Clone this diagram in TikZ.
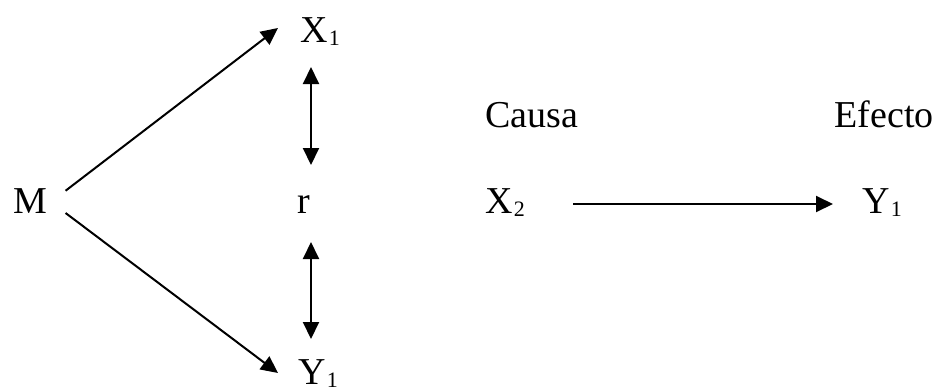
\documentclass[tikz,border=0pt]{standalone}
\usepackage{fontspec}
\setmainfont{Liberation Serif}
\usepackage{tikz}
\usetikzlibrary{arrows.meta, positioning}
\newcommand{\subidx}[1]{\kern0.5pt\raisebox{-1.5pt}{\fontsize{11}{12}\selectfont #1}}
\tikzstyle{word} = [inner sep=0pt, anchor=base west, font=\fontsize{19}{23}\selectfont]
\tikzstyle{arrow} = [line width=1pt, -{Triangle[length=8.5pt, width=8pt]}]
\tikzstyle{dblarrow} = [line width=1pt, {Triangle[length=8.5pt, width=8pt]}-{Triangle[length=8.5pt, width=8pt]}]

\begin{document}
\begin{tikzpicture}[x=0.5pt, y=-0.5pt]
\useasboundingbox (0,0) rectangle (934,387);
% left part
\node (M) [word] at (13,213) {M};
\node (X1) [word] at (300,42) {X\subidx{1}};
\node (r) [word] at (297,213) {r};
\node (Y1) [word] at (298,384) {Y\subidx{1}};
% right part
\node (causa) [word] at (485,127) {Causa};
\node (efecto) [word] at (834,127) {Efecto};
\node (X2) [word] at (485,213) {X\subidx{2}};
\node (Y1b) [word] at (862,213) {Y\subidx{1}};

\draw [arrow] ([shift={(18,3)}]M.north east) -- ([shift={(-22,-14)}]X1.base west);
\draw [arrow] ([shift={(18,0)}]M.base east) -- ([shift={(-20,-11)}]Y1.base west);
\draw [dblarrow] ([shift={(11,25)}]X1.base west) -- ([shift={(14,-48)}]r.base west);
\draw [dblarrow] ([shift={(14,29)}]r.base west) -- ([shift={(13,-45)}]Y1.base west);
\draw [arrow] ([shift={(88,-9)}]X2.base west) -- ([shift={(-29,-9)}]Y1b.base west);
\end{tikzpicture}
\end{document}
